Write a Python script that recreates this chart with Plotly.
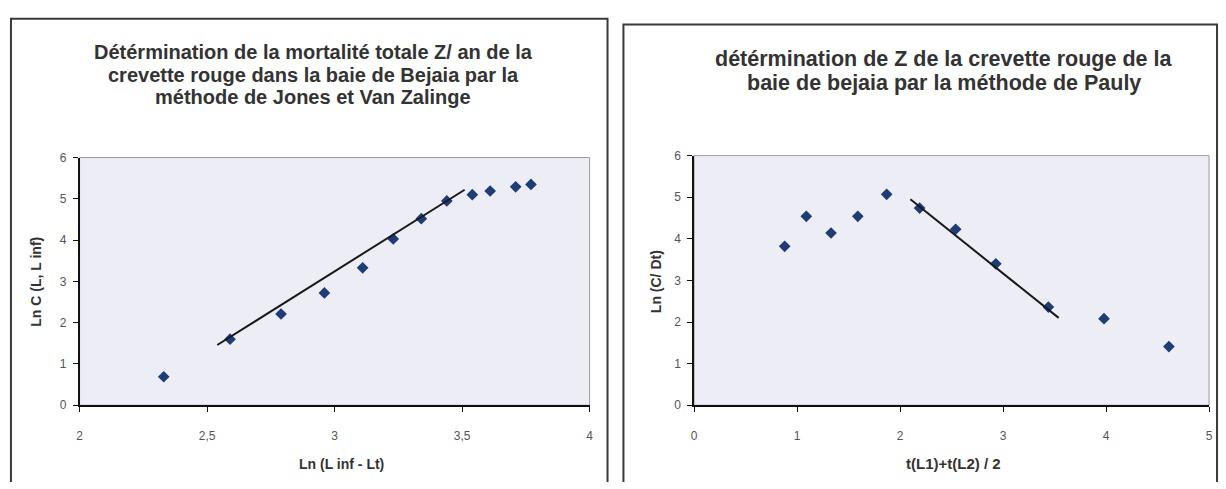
import plotly.graph_objects as go

W, H = 1226, 489

# Jones et Van Zalinge
jones_x = [2.33, 2.59, 2.79, 2.96, 3.11, 3.23, 3.34, 3.44, 3.54, 3.61, 3.71, 3.77]
jones_y = [0.69, 1.60, 2.21, 2.72, 3.33, 4.03, 4.52, 4.95, 5.10, 5.19, 5.29, 5.35]
jones_fit_x = [2.54, 3.51]
jones_fit_y = [1.46, 5.22]

# Pauly
pauly_x = [0.88, 1.09, 1.33, 1.59, 1.87, 2.19, 2.54, 2.93, 3.44, 3.98, 4.61]
pauly_y = [3.82, 4.54, 4.14, 4.54, 5.07, 4.74, 4.23, 3.40, 2.36, 2.08, 1.41]
pauly_fit_x = [2.10, 3.54]
pauly_fit_y = [4.95, 2.10]

left_ticks = [2, 2.5, 3, 3.5, 4]
left_ticktext = ["2", "2,5", "3", "3,5", "4"]
right_ticks = [0, 1, 2, 3, 4, 5]
y_ticks = [0, 1, 2, 3, 4, 5, 6]

title_left = ["Détérmination de la mortalité totale Z/ an de la",
              "crevette rouge dans la baie de Bejaia par la",
              "méthode de Jones et Van Zalinge"]
title_right = ["détérmination de Z de la crevette rouge de la",
               "baie de bejaia par la méthode de Pauly"]

FONT = "Liberation Sans"
marker = dict(symbol="diamond", size=9, color="#1d3d78",
              line=dict(width=0))


def px(x):
    return x / W


def py(y):
    return 1 - y / H


fig = go.Figure()
fig.add_trace(go.Scatter(x=jones_x, y=jones_y, mode="markers", marker=marker,
                         xaxis="x", yaxis="y", showlegend=False))
fig.add_trace(go.Scatter(x=jones_fit_x, y=jones_fit_y, mode="lines",
                         line=dict(color="#1a1a1a", width=2),
                         xaxis="x", yaxis="y", showlegend=False))
fig.add_trace(go.Scatter(x=pauly_x, y=pauly_y, mode="markers", marker=marker,
                         xaxis="x2", yaxis="y2", showlegend=False))
fig.add_trace(go.Scatter(x=pauly_fit_x, y=pauly_fit_y, mode="lines",
                         line=dict(color="#1a1a1a", width=2),
                         xaxis="x2", yaxis="y2", showlegend=False))

axis_common = dict(showgrid=False, zeroline=False, showline=True,
                   linecolor="#111", linewidth=1.5, ticks="outside",
                   ticklen=5, tickwidth=1.2, tickcolor="#111",
                   tickfont=dict(family=FONT, size=12, color="#555"))

fig.update_layout(
    width=W, height=H,
    margin=dict(l=0, r=0, t=0, b=0),
    paper_bgcolor="white",
    plot_bgcolor="#ededf5",
    xaxis=dict(domain=[px(77), px(590)], range=[2, 4], anchor="y",
               tickvals=left_ticks, ticktext=left_ticktext,
               ticklabelstandoff=14, **axis_common),
    yaxis=dict(domain=[py(410), py(155)], range=[0, 6], anchor="x",
               tickvals=y_ticks, ticklabelstandoff=4, **axis_common),
    xaxis2=dict(domain=[px(695), px(1213)], range=[0, 5], anchor="y2",
                tickvals=right_ticks, ticklabelstandoff=14, **axis_common),
    yaxis2=dict(domain=[py(410), py(153)], range=[0, 6], anchor="x2",
                tickvals=y_ticks, ticklabelstandoff=4, **axis_common),
)

# faint border on top/right of each plot area
for xr, yr in (("x", "y"), ("x2", "y2")):
    fig.add_shape(type="rect", xref=xr + " domain", yref=yr + " domain",
                  x0=0, x1=1, y0=0, y1=1, layer="below",
                  line=dict(color="#9a9a9a", width=1))

# panel frames (open at the bottom)
for x0, x1, y0 in ((8, 608, 12), (624, 1221, 18)):
    fig.add_shape(type="path", xref="paper", yref="paper",
                  path=f"M {px(x0)},0 L {px(x0)},{py(y0)} L {px(x1)},{py(y0)} L {px(x1)},0",
                  line=dict(color="#3a3a3a", width=2))

for i, line in enumerate(title_left):
    fig.add_annotation(x=px(312), y=py(46 + 23.5 * i), xref="paper", yref="paper",
                       xanchor="center", yanchor="middle",
                       text=f"<b>{line}</b>", showarrow=False,
                       font=dict(family=FONT, size=20, color="#333"))
for i, line in enumerate(title_right):
    fig.add_annotation(x=px(946), y=py(54 + 24 * i), xref="paper", yref="paper",
                       xanchor="center", yanchor="middle",
                       text=f"<b>{line}</b>", showarrow=False,
                       font=dict(family=FONT, size=21.5, color="#333"))

fig.add_annotation(x=px(340), y=py(470), xref="paper", yref="paper",
                   xanchor="center", yanchor="middle",
                   text="<b>Ln (L inf - Lt)</b>", showarrow=False,
                   font=dict(family=FONT, size=14, color="#333"))
fig.add_annotation(x=px(33), y=py(283), xref="paper", yref="paper",
                   xanchor="center", yanchor="middle",
                   text="<b>Ln C (L, L inf)</b>", showarrow=False,
                   font=dict(family=FONT, size=14, color="#333"), textangle=-90)
fig.add_annotation(x=px(956), y=py(470), xref="paper", yref="paper",
                   xanchor="center", yanchor="middle",
                   text="<b>t(L1)+t(L2) / 2</b>", showarrow=False,
                   font=dict(family=FONT, size=15, color="#333"))
fig.add_annotation(x=px(657), y=py(283), xref="paper", yref="paper",
                   xanchor="center", yanchor="middle",
                   text="<b>Ln (C/ Dt)</b>", showarrow=False,
                   font=dict(family=FONT, size=14, color="#333"), textangle=-90)

fig.write_html("out.html", config={"displayModeBar": False},
               post_script="document.body.style.margin='0';")
